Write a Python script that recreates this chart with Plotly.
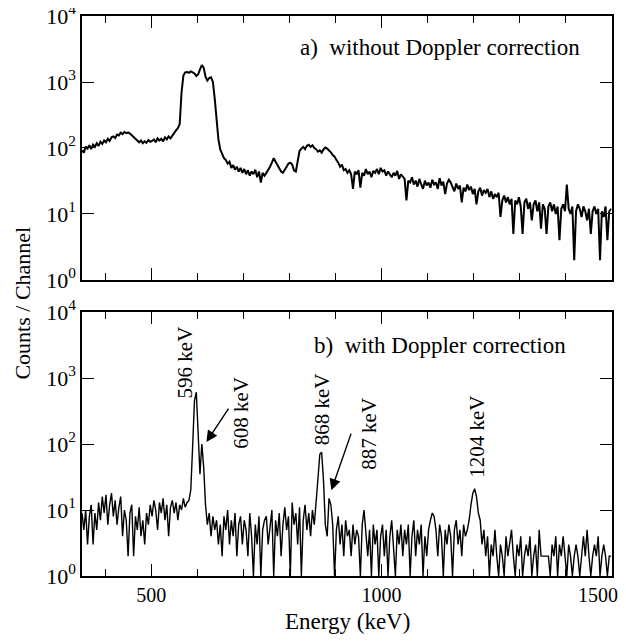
import plotly.graph_objects as go

# Channel calibration (keV): first channel energy and channel width
channel_start_keV = 350
channel_width_keV = 4

# a) counts without Doppler correction (4 keV channels from 350 keV)
counts_without = [
    92, 85, 105, 98, 110, 96, 112, 104, 118, 108, 125, 115, 130, 122, 138, 128, 145, 150, 142, 160, 155, 170, 162, 175, 168,
    172, 165, 155, 148, 135, 128, 122, 130, 118, 126, 120, 132, 124, 128, 135, 122, 140, 130, 138, 126, 145, 135, 150, 140, 155,
    165, 185, 200, 230, 700, 1250, 1400, 1420, 1380, 1450, 1400, 1350, 1230, 1300, 1550, 1800, 1650, 1200, 1050, 1150, 1180, 1000, 560, 240, 135,
    95, 82, 70, 66, 58, 62, 50, 55, 47, 52, 44, 50, 42, 48, 40, 46, 38, 44, 40, 47, 36, 44, 30, 42, 38,
    42, 46, 52, 60, 70, 62, 55, 50, 44, 42, 48, 52, 58, 60, 56, 46, 44, 62, 90, 98, 104, 96, 108, 112, 104,
    110, 100, 96, 88, 92, 85, 95, 102, 98, 92, 86, 78, 74, 66, 60, 52, 56, 46, 48, 42, 46, 40, 24, 44, 40,
    46, 25, 42, 38, 48, 40, 44, 36, 45, 42, 48, 40, 50, 44, 46, 38, 44, 40, 36, 42, 38, 45, 34, 40, 36,
    34, 16, 32, 30, 36, 28, 32, 26, 34, 28, 24, 32, 27, 30, 25, 33, 28, 30, 24, 35, 27, 31, 20, 29, 33,
    30, 26, 22, 29, 24, 27, 15, 25, 22, 28, 23, 26, 20, 24, 14, 22, 25, 19, 23, 21, 24, 18, 22, 17, 20,
    18, 21, 9, 16, 19, 15, 18, 14, 17, 5, 16, 14, 18, 13, 5, 15, 17, 12, 15, 8, 14, 16, 11, 15, 6,
    14, 12, 5, 13, 15, 11, 14, 10, 13, 4, 12, 14, 11, 28, 12, 10, 13, 2, 11, 14, 12, 9, 13, 11, 8,
    12, 5, 11, 13, 10, 12, 2, 11, 9, 13, 4, 11, 12,
]

# b) counts with Doppler correction
counts_with = [
    9, 5, 10, 3, 8, 12, 3, 9, 5, 13, 7, 16, 9, 17, 6, 12, 18, 8, 14, 6, 11, 16, 4, 10, 7,
    2, 9, 12, 2, 8, 5, 11, 4, 7, 3, 9, 6, 12, 8, 14, 10, 5, 13, 9, 15, 7, 12, 4, 11, 14,
    9, 13, 7, 12, 10, 15, 11, 13, 14, 20, 90, 450, 610, 120, 35, 100, 45, 12, 6, 9, 4, 8, 5, 7, 3,
    6, 2, 8, 5, 10, 3, 7, 4, 9, 2, 6, 8, 3, 7, 5, 2, 9, 4, 1, 6, 3, 8, 1, 5, 7,
    8, 3, 6, 10, 1, 7, 4, 9, 2, 6, 11, 5, 8, 1, 13, 6, 9, 3, 11, 1, 7, 12, 5, 9, 4,
    10, 6, 12, 30, 70, 75, 28, 6, 4, 15, 12, 6, 1, 5, 8, 3, 6, 2, 7, 4, 5, 2, 6, 3, 5,
    4, 1, 6, 10, 4, 2, 5, 1, 6, 3, 5, 1, 4, 6, 2, 5, 1, 4, 7, 3, 1, 5, 3, 6, 2,
    5, 3, 6, 1, 4, 7, 2, 5, 3, 6, 1, 4, 2, 5, 7, 9, 8, 5, 2, 6, 4, 1, 5, 3, 6,
    4, 1, 5, 7, 3, 5, 2, 6, 4, 5, 7, 12, 18, 21, 16, 9, 7, 3, 5, 2, 4, 1, 3, 2, 5,
    2, 1, 3, 2, 1, 4, 2, 3, 5, 2, 1, 3, 2, 4, 1, 2, 3, 2, 4, 1, 2, 3, 1, 5, 2,
    2, 2, 2, 2, 1, 3, 2, 4, 1, 3, 2, 4, 2, 1, 3, 2, 1, 2, 3, 2, 1, 2, 4, 2, 5,
    2, 1, 2, 3, 2, 4, 1, 2, 3, 2, 1, 2, 2,
]

energy_a = [channel_start_keV + channel_width_keV * i for i in range(len(counts_without))]
energy_b = [channel_start_keV + channel_width_keV * i for i in range(len(counts_with))]

# Axis ticks
x_tick_vals = [500, 1000, 1500]
x_tick_text = ["500", "1000", "1500"]
y_tick_vals = [1, 10, 100, 1000, 10000]
y_tick_text = ["10<sup>0</sup>", "10<sup>1</sup>", "10<sup>2</sup>", "10<sup>3</sup>", "10<sup>4</sup>"]

# Peak labels (panel b)
peak_labels = ["596 keV", "608 keV", "868 keV", "887 keV", "1204 keV"]

FONT = "Liberation Serif"

fig = go.Figure()
fig.add_trace(go.Scatter(x=energy_a, y=counts_without, mode="lines",
                         line=dict(color="black", width=2.0), xaxis="x", yaxis="y",
                         showlegend=False))
fig.add_trace(go.Scatter(x=energy_b, y=counts_with, mode="lines",
                         line=dict(color="black", width=1.4), xaxis="x2", yaxis="y2",
                         showlegend=False))

xcommon = dict(range=[350, 1500], tickvals=x_tick_vals,
               ticks="inside", ticklen=12, tickwidth=1.3, tickcolor="black",
               showline=True, linecolor="black", linewidth=1.5, mirror="ticks",
               showgrid=False, zeroline=False, automargin=False,
               minor=dict(dtick=100, tick0=0, ticks="inside", ticklen=7, tickwidth=1.3,
                          tickcolor="black", showgrid=False),
               tickfont=dict(family=FONT, size=20, color="black"))
ycommon = dict(type="log", range=[0, 4], tickvals=y_tick_vals, ticktext=y_tick_text,
               ticks="inside", ticklen=12, tickwidth=1.3, tickcolor="black",
               showline=True, linecolor="black", linewidth=1.5, mirror="ticks",
               showgrid=False, zeroline=False, automargin=False,
               ticklabeloverflow="allow",
               tickfont=dict(family=FONT, size=22, color="black"))

# The page body has an 8 px margin, so the figure is sized/offset to fit a 626x642 window.
fig.update_layout(
    width=610, height=626,
    margin=dict(l=74, r=6, t=8, b=58, autoexpand=False),
    paper_bgcolor="white", plot_bgcolor="white",
    font=dict(family=FONT, size=20, color="black"),
    xaxis=dict(**xcommon, ticktext=x_tick_text, domain=[0, 1], anchor="y", showticklabels=False),
    yaxis=dict(**ycommon, domain=[0.5286, 1.0], anchor="x"),
    xaxis2=dict(**xcommon, ticktext=["500", "1000", ""], domain=[0, 1], anchor="y2"),
    yaxis2=dict(**ycommon, domain=[0.0, 0.4714], anchor="x2"),
)

ann = []
ann.append(dict(text="a)\u00a0\u00a0without Doppler correction", x=1435, y=3.52, xref="x", yref="y",
                xanchor="right", yanchor="middle", showarrow=False, font=dict(family=FONT, size=23)))
ann.append(dict(text="b)\u00a0\u00a0with Doppler correction", x=1404, y=3.5, xref="x2", yref="y2",
                xanchor="right", yanchor="middle", showarrow=False, font=dict(family=FONT, size=23)))

label_pos = [(574, 3.24), (696, 2.48), (870, 2.52), (974, 2.15), (1207, 2.11)]
for txt, (lx, ly) in zip(peak_labels, label_pos):
    ann.append(dict(text=txt, x=lx, y=ly, xref="x2", yref="y2", textangle=-90,
                    xanchor="center", yanchor="middle", showarrow=False,
                    font=dict(family=FONT, size=21)))

# arrows for 608 and 887 keV
for (hx, hy, tx, ty) in [(620, 2.03, 670, 2.56), (891, 1.30, 935, 2.18)]:
    ann.append(dict(text="", x=hx, y=hy, ax=tx, ay=ty, xref="x2", yref="y2",
                    axref="x2", ayref="y2", showarrow=True, arrowhead=2, arrowsize=1.6,
                    arrowwidth=1.4, arrowcolor="black"))

# last x tick label, pulled inside the page as in the reference
ann.append(dict(text=x_tick_text[-1], x=1470, y=-0.034, xref="x2", yref="paper",
                xanchor="center", yanchor="middle", showarrow=False,
                font=dict(family=FONT, size=20)))

ann.append(dict(text="Counts / Channel", x=-0.114, y=0.4875, xref="paper", yref="paper",
                textangle=-90, xanchor="center", yanchor="middle", showarrow=False,
                font=dict(family=FONT, size=22)))
ann.append(dict(text="Energy (keV)", x=0.5, y=-0.082, xref="paper", yref="paper",
                xanchor="center", yanchor="middle", showarrow=False,
                font=dict(family=FONT, size=23)))
fig.update_layout(annotations=ann)

fig.write_html("out.html")
